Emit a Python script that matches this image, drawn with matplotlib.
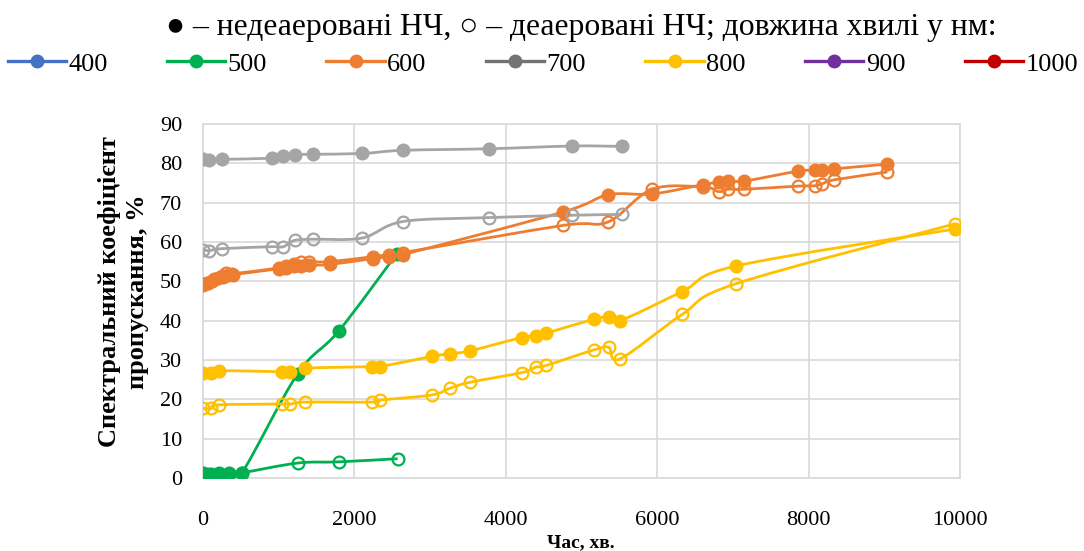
import matplotlib
matplotlib.use('Agg')
import matplotlib.pyplot as plt
from matplotlib.path import Path
from matplotlib.patches import PathPatch
from matplotlib.lines import Line2D

plt.rcParams['font.family'] = ['Liberation Serif', 'DejaVu Serif']

# Час, хв. / коефіцієнт пропускання, %
# 500 нм
t_500 = [0, 60, 110, 210, 340, 510, 1250, 1790, 2560]
y_500_nd = [1.2, 1.0, 1.0, 1.2, 1.2, 1.2, 26.5, 37.3, 57.0]
t_500_d = [0, 60, 110, 210, 340, 510, 1250, 1790, 2570]
y_500_d = [1.0, 0.8, 0.8, 1.0, 1.0, 1.3, 3.8, 4.1, 4.9]

# 600 нм
t_600_nd = [0, 50, 120, 200, 260, 330, 400, 1000, 1100, 1200, 1300, 1400, 1680,
            2250, 2460, 2640, 4750, 5350, 5930, 6610, 6810, 6930, 7150, 7860,
            8080, 8180, 8340, 9040]
y_600_nd = [49.3, 49.5, 50.2, 50.8, 51.2, 51.5, 51.7, 53.2, 53.5, 53.8, 54.0, 54.1, 54.3,
            55.8, 56.3, 56.8, 67.6, 72.0, 72.2, 74.6, 75.2, 75.6, 75.5, 78.0,
            78.2, 78.3, 78.6, 79.8]
t_600_d = [0, 60, 150, 250, 300, 380, 1000, 1100, 1200, 1300, 1400, 1680,
           2250, 2460, 2640, 4750, 5350, 5930, 6610, 6810, 6930, 7150, 7860,
           8080, 8180, 8340, 9040]
y_600_d = [49.0, 49.6, 50.6, 51.3, 52.0, 51.9, 53.4, 54.0, 54.4, 54.8, 55.0, 55.0,
           56.3, 56.8, 57.3, 64.2, 65.1, 73.4, 74.0, 72.8, 73.4, 73.4, 74.2,
           74.3, 74.8, 75.8, 77.8]

# 700 нм
t_700 = [0, 80, 250, 910, 1060, 1210, 1450, 2100, 2640, 3780, 4880, 5530]
y_700_nd = [81.2, 80.9, 81.0, 81.3, 81.8, 82.2, 82.3, 82.5, 83.3, 83.7, 84.4, 84.3]
y_700_d = [58.0, 57.8, 58.3, 58.8, 58.8, 60.4, 60.7, 61.0, 65.2, 66.2, 66.8, 67.0]

# 800 нм
t_800 = [0, 110, 210, 1040, 1150, 1350, 2230, 2340, 3020, 3260, 3520, 4210, 4400,
         4530, 5170, 5360, 5510, 6330, 7040, 9930]
y_800_nd = [26.8, 26.8, 27.3, 27.0, 27.0, 27.9, 28.3, 28.3, 30.9, 31.6, 32.3, 35.7, 36.1,
            36.8, 40.4, 40.9, 40.0, 47.4, 53.9, 63.3]
y_800_d = [17.7, 17.7, 18.6, 18.8, 18.8, 19.3, 19.3, 19.8, 21.1, 22.8, 24.3, 26.8, 28.2,
           28.6, 32.6, 33.2, 30.3, 41.6, 49.4, 64.6]

wavelengths = ['400', '500', '600', '700', '800', '900', '1000']
legend_colors = ['#4472C4', '#00B050', '#ED7D31', '#767171', '#FFC000', '#7030A0', '#C00000']

GREEN = '#00B050'
ORANGE = '#ED7D31'
GRAY = '#A5A5A5'
YELLOW = '#FFC000'


def smooth_path(x, y):
    # згладжена лінія (кубічні криві Безьє, як у Excel)
    pts = list(zip(x, y))
    n = len(pts)
    verts = [pts[0]]
    codes = [Path.MOVETO]
    for i in range(n - 1):
        p0 = pts[i - 1] if i > 0 else pts[i]
        p1 = pts[i]
        p2 = pts[i + 1]
        p3 = pts[i + 2] if i + 2 < n else pts[i + 1]
        c1 = (p1[0] + (p2[0] - p0[0]) / 6, p1[1] + (p2[1] - p0[1]) / 6)
        c2 = (p2[0] - (p3[0] - p1[0]) / 6, p2[1] - (p3[1] - p1[1]) / 6)
        verts += [c1, c2, p2]
        codes += [Path.CURVE4] * 3
    return Path(verts, codes)


def draw_series(ax, x, y, color, filled):
    ax.add_patch(PathPatch(smooth_path(x, y), facecolor='none', edgecolor=color,
                           lw=2.0, zorder=3))
    ax.plot(x, y, linestyle='none', marker='o', ms=8.5, mew=1.6,
            mec=color, mfc=color if filled else 'none', zorder=4)


fig = plt.figure(figsize=(10.84, 5.51), dpi=100)
ax = fig.add_axes([0.1873, 0.1325, 0.6984, 0.6425])

draw_series(ax, t_500, y_500_nd, GREEN, True)
draw_series(ax, t_500_d, y_500_d, GREEN, False)
draw_series(ax, t_600_nd, y_600_nd, ORANGE, True)
draw_series(ax, t_600_d, y_600_d, ORANGE, False)
draw_series(ax, t_700, y_700_nd, GRAY, True)
draw_series(ax, t_700, y_700_d, GRAY, False)
draw_series(ax, t_800, y_800_nd, YELLOW, True)
draw_series(ax, t_800, y_800_d, YELLOW, False)

ax.set_xlim(0, 10000)
ax.set_ylim(0, 90)
ax.set_xticks(range(0, 10001, 2000))
ax.set_yticks(range(0, 91, 10))
ax.grid(True, color='#D9D9D9', lw=1.2)
ax.set_axisbelow(True)
for s in ax.spines.values():
    s.set_color('#D9D9D9')
    s.set_linewidth(1.2)
ax.tick_params(length=0, labelsize=16, colors='black')
ax.tick_params(axis='x', pad=24)
ax.tick_params(axis='y', pad=15)

fig.text(0.536, 0.0145, 'Час, хв.', ha='center', va='center', fontsize=14, fontweight='bold')
fig.text(0.114, 0.47, 'Спектральний коефіцієнт\nпропускання, %', ha='center', va='center',
         rotation=90, fontsize=19, fontweight='bold', linespacing=1.25)

fig.text(0.536, 0.950, '● – недеаеровані НЧ, ○ – деаеровані НЧ; довжина хвилі у нм:',
         ha='center', va='center', fontsize=22.8,
         family=['Liberation Serif', 'DejaVu Sans'])

handles = [Line2D([], [], color=c, lw=2.4, marker='o', ms=9) for c in legend_colors]
fig.legend(handles, wavelengths, loc='center left', bbox_to_anchor=(0.007, 0.884),
           ncol=7, frameon=False, fontsize=19, handlelength=2.2, handletextpad=0.1,
           columnspacing=2.25, borderpad=0, borderaxespad=0)

fig.savefig('out.png', dpi=100)
